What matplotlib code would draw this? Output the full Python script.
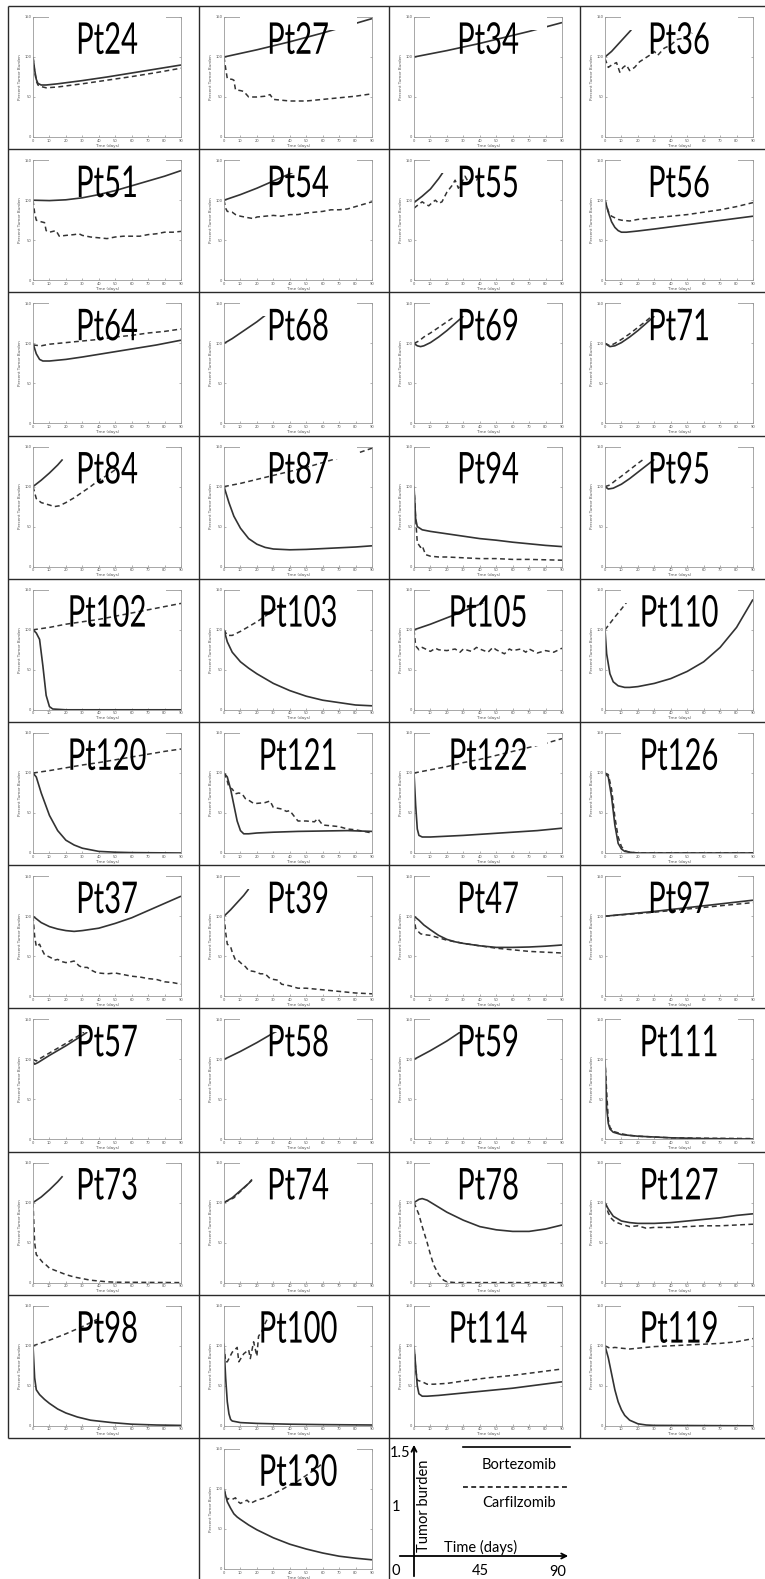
import matplotlib
matplotlib.use('Agg')
import matplotlib.pyplot as plt
from matplotlib import patheffects
from matplotlib.patches import Rectangle
from matplotlib.transforms import Affine2D

# Percent tumor burden over 90 days, (day, value) pairs per patient.
# *_bor = Bortezomib (solid), *_car = Carfilzomib (dashed)
pt24_bor = [(0, 100), (1, 84), (2, 72), (3, 67), (5, 65), (8, 65), (15, 66.5), (30, 70.5), (45, 75), (60, 80), (75, 85), (90, 90)]
pt24_car = [(0, 100), (1, 82), (2, 70), (3, 65), (5, 63), (8, 61.5), (15, 62.5), (30, 66.5), (45, 71), (60, 75.5), (75, 80.5), (90, 86)]
pt27_bor = [(0, 100), (10, 104.5), (20, 109), (30, 114), (40, 119), (50, 124.5), (60, 130), (70, 136), (80, 142), (90, 148)]
pt27_car = [(0, 100), (1, 86), (2, 73), (5, 72), (6, 71), (7, 59), (10, 58), (12, 57), (15, 50), (20, 50), (25, 51), (28, 53),
            (30, 47), (35, 46), (40, 45), (50, 45), (60, 47), (70, 49), (80, 51), (90, 54)]
pt34_bor = [(0, 100), (10, 104), (20, 108), (30, 112.5), (40, 117), (50, 122), (60, 127), (70, 132), (80, 137.5), (90, 143)]
pt36_bor = [(0, 100), (4, 107), (8, 116), (12, 125), (16, 134)]
pt36_car = [(0, 98), (2, 87), (4, 90), (7, 93), (9, 81), (11, 87), (13, 90), (15, 83), (18, 87), (21, 94), (27, 102), (30, 107),
            (32, 102), (36, 111), (40, 115), (44, 122), (49, 124), (53, 130)]

pt51_bor = [(0, 100), (10, 99.5), (20, 100.5), (30, 103), (40, 107), (50, 112), (60, 118), (70, 124), (80, 130), (90, 137)]
pt51_car = [(0, 100), (1, 84), (2, 75), (5, 73), (7, 72), (8, 62), (10, 60), (12, 61), (14, 62), (16, 55), (20, 56), (25, 57),
            (28, 58), (30, 56), (35, 54), (40, 53), (45, 52), (50, 54), (55, 55), (60, 55), (65, 55), (70, 57), (75, 58),
            (80, 60), (85, 60), (90, 61)]
pt54_bor = [(0, 100), (10, 107), (20, 115), (30, 124), (40, 133), (45, 138)]
pt54_car = [(0, 100), (1, 90), (2, 86), (5, 85), (7, 82), (10, 80), (15, 78), (18, 77), (20, 79), (25, 80), (30, 81), (35, 80),
            (40, 82), (45, 82), (50, 84), (55, 85), (60, 86), (65, 88), (70, 88), (75, 89), (80, 92), (85, 95), (90, 98)]
pt55_bor = [(0, 97), (5, 105), (10, 114), (15, 127), (18, 136)]
pt55_car = [(0, 90), (3, 95), (5, 98), (7, 95), (9, 93), (11, 97), (13, 100), (15, 96), (17, 98), (20, 110), (23, 118),
            (25, 125), (27, 115), (29, 122), (31, 130), (33, 123), (35, 127), (38, 125), (40, 132)]
pt56_bor = [(0, 100), (2, 85), (4, 73), (6, 66), (8, 62), (10, 60), (13, 60), (20, 61.5), (30, 64), (45, 68), (60, 72), (75, 76), (90, 80)]
pt56_car = [(0, 100), (2, 86), (4, 80), (6, 78), (8, 76), (10, 75), (15, 74), (20, 76), (30, 78), (40, 80), (50, 82), (60, 85),
            (70, 88), (80, 92), (90, 97)]

pt64_bor = [(0, 100), (2, 87), (4, 80), (6, 78), (10, 78), (20, 80), (30, 83), (45, 88), (60, 93), (75, 98), (90, 104)]
pt64_car = [(0, 98), (5, 97), (10, 99), (20, 101), (30, 103), (40, 105), (50, 108), (60, 110), (70, 113), (80, 115), (90, 118)]
pt68_bor = [(0, 100), (5, 106), (10, 113), (15, 120), (20, 127), (25, 135)]
pt69_bor = [(0, 100), (2, 97), (4, 96), (6, 97), (10, 101), (15, 108), (20, 116), (25, 125), (30, 134)]
pt69_car = [(0, 100), (3, 103), (6, 108), (10, 113), (15, 120), (20, 127), (25, 134)]
pt71_bor = [(0, 100), (3, 96), (6, 97), (10, 101), (15, 108), (20, 116), (25, 125), (30, 134)]
pt71_car = [(0, 100), (3, 97), (6, 100), (10, 105), (15, 112), (20, 120), (25, 128), (29, 135)]

pt84_bor = [(0, 100), (5, 108), (10, 117), (15, 127), (18, 134)]
pt84_car = [(0, 100), (2, 85), (5, 80), (10, 77), (13, 75), (16, 76), (20, 80), (25, 86), (30, 93), (35, 100), (40, 108),
            (45, 114), (50, 121)]
pt87_bor = [(0, 100), (3, 80), (6, 63), (10, 48), (15, 35), (20, 28), (25, 24), (30, 22), (40, 21), (50, 21.5), (60, 22.5),
            (70, 23.5), (80, 24.5), (90, 26)]
pt87_car = [(0, 100), (10, 104), (20, 109), (30, 114), (40, 119), (50, 124), (60, 130), (70, 136), (80, 141), (90, 148)]
pt94_bor = [(0, 100), (0.5, 80), (1, 60), (2, 50), (5, 46), (10, 44), (20, 41), (30, 38), (40, 35), (50, 33), (60, 30.5),
            (70, 28.5), (80, 26.5), (90, 25)]
pt94_car = [(0, 100), (1, 60), (2, 30), (4, 24), (5, 26), (7, 15), (10, 13), (15, 12), (20, 12), (30, 11), (40, 10), (50, 10),
            (60, 9), (70, 9), (80, 8.5), (90, 8)]
pt95_bor = [(0, 100), (2, 97), (5, 98), (10, 103), (15, 110), (20, 118), (25, 126), (30, 134)]
pt95_car = [(0, 100), (3, 102), (6, 107), (10, 113), (15, 121), (20, 129), (24, 135)]

pt102_bor = [(0, 100), (2, 96), (4, 88), (6, 55), (8, 18), (10, 4), (12, 1), (20, 0), (90, 0)]
pt102_car = [(0, 100), (10, 103), (20, 107), (30, 110), (40, 113), (50, 117), (60, 121), (70, 125), (80, 129), (90, 133)]
pt103_bor = [(0, 100), (2, 85), (5, 72), (10, 60), (15, 52), (20, 45), (30, 33), (40, 24), (50, 17), (60, 12), (70, 9), (80, 6), (90, 5)]
pt103_car = [(0, 100), (2, 93), (5, 93), (7, 95), (10, 98), (15, 104), (20, 110), (25, 117), (30, 124), (35, 131), (38, 135)]
pt105_bor = [(0, 100), (10, 107), (20, 115), (30, 123), (40, 132), (45, 137)]
pt105_car = [(0, 100), (1, 80), (3, 75), (5, 78), (7, 76), (10, 73), (13, 77), (15, 75), (20, 74), (25, 76), (28, 72), (30, 76),
             (35, 73), (38, 78), (40, 76), (45, 72), (48, 78), (50, 75), (55, 70), (58, 76), (60, 74), (65, 76), (68, 72),
             (70, 76), (75, 71), (80, 74), (85, 72), (90, 77)]
pt110_bor = [(0, 100), (1, 70), (3, 45), (5, 35), (8, 30), (12, 28), (15, 28), (20, 29), (30, 33), (40, 39), (50, 48), (60, 60),
             (70, 78), (80, 103), (90, 138)]
pt110_car = [(0, 100), (3, 108), (6, 116), (10, 126), (13, 134)]

pt120_bor = [(0, 100), (2, 95), (5, 75), (10, 47), (15, 28), (20, 16), (25, 10), (30, 6), (40, 2), (50, 1), (60, 0.5), (90, 0)]
pt120_car = [(0, 100), (10, 103), (20, 106.5), (30, 110), (40, 113), (50, 116.5), (60, 120), (70, 123.5), (80, 127), (90, 130)]
pt121_bor = [(0, 100), (2, 95), (4, 80), (6, 60), (8, 40), (10, 28), (12, 24), (15, 24), (20, 25), (30, 26), (45, 27),
             (60, 27.5), (75, 28), (90, 27)]
pt121_car = [(0, 100), (2, 90), (3, 82), (5, 80), (7, 74), (9, 75), (11, 74), (13, 68), (15, 66), (18, 62), (20, 62), (25, 63),
             (28, 65), (30, 57), (35, 55), (38, 52), (40, 53), (43, 45), (45, 40), (50, 40), (55, 39), (57, 43), (60, 35),
             (65, 34), (70, 33), (75, 30), (80, 29), (85, 27), (90, 25)]
pt122_bor = [(0, 100), (1, 60), (2, 30), (3, 22), (5, 20), (10, 20), (20, 21), (30, 22), (45, 24), (60, 26), (75, 28), (90, 31)]
pt122_car = [(0, 100), (10, 104), (20, 108), (30, 113), (40, 117), (50, 122), (60, 127), (70, 132), (80, 137), (90, 143)]
pt126_bor = [(0, 100), (2, 95), (4, 70), (6, 35), (8, 12), (10, 5), (12, 2), (15, 1), (20, 0), (90, 0)]
pt126_car = [(0, 100), (2, 98), (4, 80), (6, 45), (8, 20), (10, 8), (12, 3), (15, 1), (20, 0), (90, 0)]

pt37_bor = [(0, 100), (5, 92), (10, 87), (15, 84), (20, 82), (25, 81), (30, 82), (40, 85), (50, 91), (60, 98), (70, 107),
            (80, 116), (90, 125)]
pt37_car = [(0, 100), (1, 75), (2, 62), (4, 65), (5, 60), (7, 52), (9, 50), (11, 48), (13, 45), (15, 46), (18, 43), (20, 42),
            (23, 43), (25, 44), (28, 38), (30, 36), (33, 36), (35, 33), (38, 30), (40, 29), (45, 28), (50, 29), (55, 27),
            (60, 25), (65, 24), (70, 22), (75, 21), (80, 18), (85, 17), (90, 15)]
pt39_bor = [(0, 100), (4, 108), (8, 117), (12, 126), (15, 134)]
pt39_car = [(0, 100), (1, 80), (2, 65), (4, 62), (5, 55), (7, 45), (9, 44), (11, 40), (13, 37), (15, 32), (18, 31), (20, 30),
            (22, 28), (25, 28), (28, 22), (30, 21), (33, 20), (35, 15), (40, 13), (45, 10), (50, 10), (55, 9), (60, 8),
            (65, 7), (70, 6), (75, 5), (80, 4), (90, 3)]
pt47_bor = [(0, 100), (3, 95), (6, 89), (10, 83), (15, 76), (20, 71), (25, 68), (30, 66), (40, 63), (50, 61), (60, 61),
            (70, 61.5), (80, 62.5), (90, 64)]
pt47_car = [(0, 100), (1, 85), (2, 82), (4, 78), (6, 77), (10, 76), (15, 73), (20, 70), (25, 68), (30, 66), (40, 63), (50, 60),
            (60, 58), (70, 56), (80, 55), (90, 54)]
pt97_bor = [(0, 100), (15, 103), (30, 106), (45, 109.5), (60, 113), (75, 116.5), (90, 120)]
pt97_car = [(0, 100), (15, 102.5), (30, 105), (45, 108), (60, 111), (75, 114), (90, 117)]

pt57_bor = [(0, 97), (1, 94), (3, 96), (10, 105), (20, 117), (30, 130), (33, 134)]
pt57_car = [(0, 100), (2, 98), (5, 102), (10, 108), (20, 120), (28, 130), (31, 134)]
pt58_bor = [(0, 100), (10, 110), (20, 121), (30, 133), (32, 135)]
pt59_bor = [(0, 100), (10, 111), (20, 123), (28, 134)]
pt111_bor = [(0, 100), (0.5, 70), (1, 40), (2, 20), (3, 13), (5, 9), (10, 6), (20, 4), (30, 3), (40, 2), (60, 1), (90, 0.5)]
pt111_car = [(0, 100), (1, 60), (2, 25), (3, 15), (5, 10), (10, 7), (15, 5), (20, 4), (30, 3), (40, 2), (60, 1.5), (90, 1)]

pt73_bor = [(0, 100), (5, 107), (10, 116), (15, 126), (18, 133)]
pt73_car = [(0, 100), (1, 50), (2, 35), (4, 30), (6, 25), (8, 22), (10, 18), (15, 14), (20, 10), (25, 7), (30, 5), (35, 3),
            (40, 2), (45, 1), (50, 0.5), (90, 0)]
pt74_bor = [(0, 100), (5, 106), (10, 115), (15, 124), (17, 128)]
pt74_car = [(0, 100), (3, 103), (6, 106), (9, 112), (12, 118), (15, 124), (17, 129)]
pt78_bor = [(0, 100), (3, 104), (5, 105), (8, 103), (12, 98), (20, 88), (30, 78), (40, 70), (50, 66), (60, 64), (70, 64),
            (80, 67), (90, 72)]
pt78_car = [(0, 100), (3, 85), (5, 70), (8, 50), (10, 35), (12, 22), (15, 10), (18, 3), (20, 1), (25, 0), (90, 0)]
pt127_bor = [(0, 100), (2, 92), (5, 83), (10, 77), (15, 75), (20, 74), (30, 74), (40, 75), (50, 77), (60, 79), (70, 81),
             (80, 84), (90, 86)]
pt127_car = [(0, 100), (2, 87), (4, 80), (6, 76), (10, 73), (15, 70), (20, 71), (25, 68), (30, 69), (40, 69), (50, 70),
             (60, 71), (70, 71), (80, 72), (90, 73)]

pt98_bor = [(0, 100), (1, 60), (2, 45), (4, 39), (7, 33), (10, 28), (15, 21), (20, 16), (27, 11), (35, 7), (48, 4), (60, 2),
            (75, 1), (90, 0.5)]
pt98_car = [(0, 100), (10, 107), (20, 115), (30, 124), (40, 134)]
pt100_bor = [(0, 103), (0.5, 80), (1, 60), (2, 30), (3, 15), (4, 8), (5, 6), (10, 4), (20, 3), (40, 2), (60, 1.5), (90, 1)]
pt100_car = [(0, 100), (1, 80), (2, 80), (5, 92), (8, 98), (9, 80), (12, 90), (15, 95), (16, 84), (18, 105), (20, 87),
             (21, 112), (23, 118), (25, 128), (27, 136)]
pt114_bor = [(0, 100), (1, 75), (2, 50), (3, 40), (5, 37), (8, 37), (15, 38), (30, 41), (45, 44), (60, 47), (75, 51), (90, 55)]
pt114_car = [(0, 100), (1, 70), (2, 57), (5, 55), (8, 52), (12, 52), (20, 53), (30, 56), (45, 60), (60, 63), (75, 67), (90, 71)]
pt119_bor = [(0, 100), (2, 85), (4, 65), (6, 45), (8, 30), (10, 20), (12, 13), (15, 7), (20, 2.5), (25, 1), (30, 0.5), (90, 0)]
pt119_car = [(0, 100), (3, 97), (6, 98), (10, 97), (15, 96), (20, 97), (25, 98), (30, 99), (40, 100), (50, 101), (60, 102),
             (70, 103), (80, 105), (90, 109)]

pt130_bor = [(0, 100), (1, 92), (2, 84), (4, 76), (6, 69), (8, 65), (10, 62), (15, 55), (20, 49), (30, 39), (40, 31), (50, 25),
             (60, 20), (70, 16), (80, 13.5), (90, 11.5)]
pt130_car = [(0, 100), (1, 92), (2, 87), (3, 88), (5, 87), (7, 89), (8, 85), (10, 82), (12, 84), (14, 86), (16, 82), (18, 84),
             (20, 86), (25, 89), (30, 94), (35, 99), (40, 105), (45, 110), (50, 117), (55, 124), (60, 132)]

# grid of panels, row by row; None = empty cell, 'legend' = key panel
GRID = [
    ['Pt24', 'Pt27', 'Pt34', 'Pt36'],
    ['Pt51', 'Pt54', 'Pt55', 'Pt56'],
    ['Pt64', 'Pt68', 'Pt69', 'Pt71'],
    ['Pt84', 'Pt87', 'Pt94', 'Pt95'],
    ['Pt102', 'Pt103', 'Pt105', 'Pt110'],
    ['Pt120', 'Pt121', 'Pt122', 'Pt126'],
    ['Pt37', 'Pt39', 'Pt47', 'Pt97'],
    ['Pt57', 'Pt58', 'Pt59', 'Pt111'],
    ['Pt73', 'Pt74', 'Pt78', 'Pt127'],
    ['Pt98', 'Pt100', 'Pt114', 'Pt119'],
    [None, 'Pt130', 'legend', None],
]

CURVES = {
    'Pt24': (pt24_bor, pt24_car), 'Pt27': (pt27_bor, pt27_car), 'Pt34': (pt34_bor, None), 'Pt36': (pt36_bor, pt36_car),
    'Pt51': (pt51_bor, pt51_car), 'Pt54': (pt54_bor, pt54_car), 'Pt55': (pt55_bor, pt55_car), 'Pt56': (pt56_bor, pt56_car),
    'Pt64': (pt64_bor, pt64_car), 'Pt68': (pt68_bor, None), 'Pt69': (pt69_bor, pt69_car), 'Pt71': (pt71_bor, pt71_car),
    'Pt84': (pt84_bor, pt84_car), 'Pt87': (pt87_bor, pt87_car), 'Pt94': (pt94_bor, pt94_car), 'Pt95': (pt95_bor, pt95_car),
    'Pt102': (pt102_bor, pt102_car), 'Pt103': (pt103_bor, pt103_car), 'Pt105': (pt105_bor, pt105_car),
    'Pt110': (pt110_bor, pt110_car),
    'Pt120': (pt120_bor, pt120_car), 'Pt121': (pt121_bor, pt121_car), 'Pt122': (pt122_bor, pt122_car),
    'Pt126': (pt126_bor, pt126_car),
    'Pt37': (pt37_bor, pt37_car), 'Pt39': (pt39_bor, pt39_car), 'Pt47': (pt47_bor, pt47_car), 'Pt97': (pt97_bor, pt97_car),
    'Pt57': (pt57_bor, pt57_car), 'Pt58': (pt58_bor, None), 'Pt59': (pt59_bor, None), 'Pt111': (pt111_bor, pt111_car),
    'Pt73': (pt73_bor, pt73_car), 'Pt74': (pt74_bor, pt74_car), 'Pt78': (pt78_bor, pt78_car), 'Pt127': (pt127_bor, pt127_car),
    'Pt98': (pt98_bor, pt98_car), 'Pt100': (pt100_bor, pt100_car), 'Pt114': (pt114_bor, pt114_car),
    'Pt119': (pt119_bor, pt119_car),
    'Pt130': (pt130_bor, pt130_car),
}

"""
layout (pixels)
"""
W, H = 765, 1579
COL_X = [8, 199, 389, 580]
ROW_Y0 = 6
ROW_H = 143.2
LINE_COLOR = '#333333'
TITLE_FONT = 'Lato'
# the patient ids are set in a tall, narrow face
TITLE_STRETCH = 1.5


class VStretch(patheffects.AbstractPathEffect):
    """Stretch glyphs vertically about their baseline."""

    def __init__(self, sy):
        super().__init__()
        self.sy = sy

    def draw_path(self, renderer, gc, tpath, affine, rgbFace=None):
        renderer.draw_path(gc, tpath, Affine2D().scale(1, self.sy) + affine, rgbFace)


def px_rect(x, y, w, h):
    return [x / W, 1 - (y + h) / H, w / W, h / H]


def drawPanel(fig, x0, y0, name):
    ax = fig.add_axes(px_rect(x0 + 25, y0 + 11, 148, 120))
    bor, car = CURVES[name]
    if bor is not None:
        d, v = zip(*bor)
        ax.plot(d, v, '-', color=LINE_COLOR, lw=1.2, solid_capstyle='butt')
    if car is not None:
        d, v = zip(*car)
        ax.plot(d, v, '--', color=LINE_COLOR, lw=1.1, dashes=(3.2, 2.2))

    ax.set_xlim(0, 90)
    ax.set_ylim(0, 150)
    ax.set_xticks(range(0, 91, 10))
    ax.set_yticks([0, 50, 100, 150])
    ax.tick_params(direction='in', top=True, right=True, length=1.6, width=0.4,
                   labelsize=2.6, pad=1.2, colors='#777777', labelcolor='#555555')
    for s in ax.spines.values():
        s.set_color('#999999')
        s.set_linewidth(0.6)
    ax.set_xlabel('Time (days)', fontsize=3, labelpad=0.6, color='#555555')
    ax.set_ylabel('Percent Tumor Burden', fontsize=3, labelpad=1.5, color='#555555')

    # white label box over the top edge, with the patient id on it
    ax.add_patch(Rectangle((0.11, 0.893), 0.79, 0.14, transform=ax.transAxes,
                           facecolor='white', edgecolor='none', clip_on=False, zorder=3))
    ax.text(0.5, 104 / 150, name, transform=ax.transAxes, ha='center', va='baseline',
            fontsize=21, family=TITLE_FONT, color='black', zorder=4,
            path_effects=[VStretch(TITLE_STRETCH)])


def drawKey(ov, x0, y0):
    # schematic axes
    ov.annotate('', xy=(x0 + 25, y0 + 4), xytext=(x0 + 25, H),
                arrowprops=dict(arrowstyle='->', lw=1.3, color='black', mutation_scale=9))
    ov.annotate('', xy=(x0 + 182, y0 + 118), xytext=(x0 + 8, y0 + 118),
                arrowprops=dict(arrowstyle='->', lw=1.3, color='black', mutation_scale=9))
    kw = dict(family=TITLE_FONT, color='black', fontsize=10.5)
    ov.text(x0 + 11, y0 + 15, '1.5', ha='center', va='center', **kw)
    ov.text(x0 + 7, y0 + 69, '1', ha='center', va='center', **kw)
    ov.text(x0 + 7, y0 + 133, '0', ha='center', va='center', **kw)
    ov.text(x0 + 91, y0 + 133, '45', ha='center', va='center', **kw)
    ov.text(x0 + 169, y0 + 134, '90', ha='center', va='center', **kw)
    ov.text(x0 + 35, y0 + 68, 'Tumor burden', rotation=90, ha='center', va='center', **kw)
    ov.text(x0 + 92, y0 + 109, 'Time (days)', ha='center', va='center', **kw)
    ov.plot([x0 + 74, x0 + 181], [y0 + 9, y0 + 9], '-', color='black', lw=1.2)
    ov.text(x0 + 130, y0 + 27, 'Bortezomib', ha='center', va='center', **kw)
    ov.plot([x0 + 74, x0 + 181], [y0 + 49, y0 + 49], '--', color='black', lw=1.1, dashes=(3.2, 2.2))
    ov.text(x0 + 130, y0 + 65, 'Carfilzomib', ha='center', va='center', **kw)


def main():
    fig = plt.figure(figsize=(W / 100, H / 100), dpi=100)
    fig.patch.set_facecolor('white')

    # full-figure overlay in pixel units for the cell grid and key
    ov = fig.add_axes([0, 0, 1, 1])
    ov.set_xlim(0, W)
    ov.set_ylim(H, 0)
    ov.axis('off')

    n_rows = len(GRID)
    row_tops = [ROW_Y0 + ROW_H * r for r in range(n_rows)]
    last_top = row_tops[-1]
    grid_kw = dict(color='#2a2a2a', lw=1.0, solid_capstyle='butt')
    for y in row_tops:
        ov.plot([COL_X[0], W], [y, y], **grid_kw)
    ov.plot([COL_X[0]] * 2, [ROW_Y0, last_top], **grid_kw)
    ov.plot([COL_X[1]] * 2, [ROW_Y0, H], **grid_kw)
    ov.plot([COL_X[2]] * 2, [ROW_Y0, H], **grid_kw)
    ov.plot([COL_X[3]] * 2, [ROW_Y0, last_top], **grid_kw)

    for r, row in enumerate(GRID):
        for c, name in enumerate(row):
            if name is None:
                continue
            if name == 'legend':
                drawKey(ov, COL_X[c], row_tops[r])
            else:
                drawPanel(fig, COL_X[c], row_tops[r], name)

    fig.savefig('out.png', dpi=100, facecolor='white')


if __name__ == '__main__':
    main()
